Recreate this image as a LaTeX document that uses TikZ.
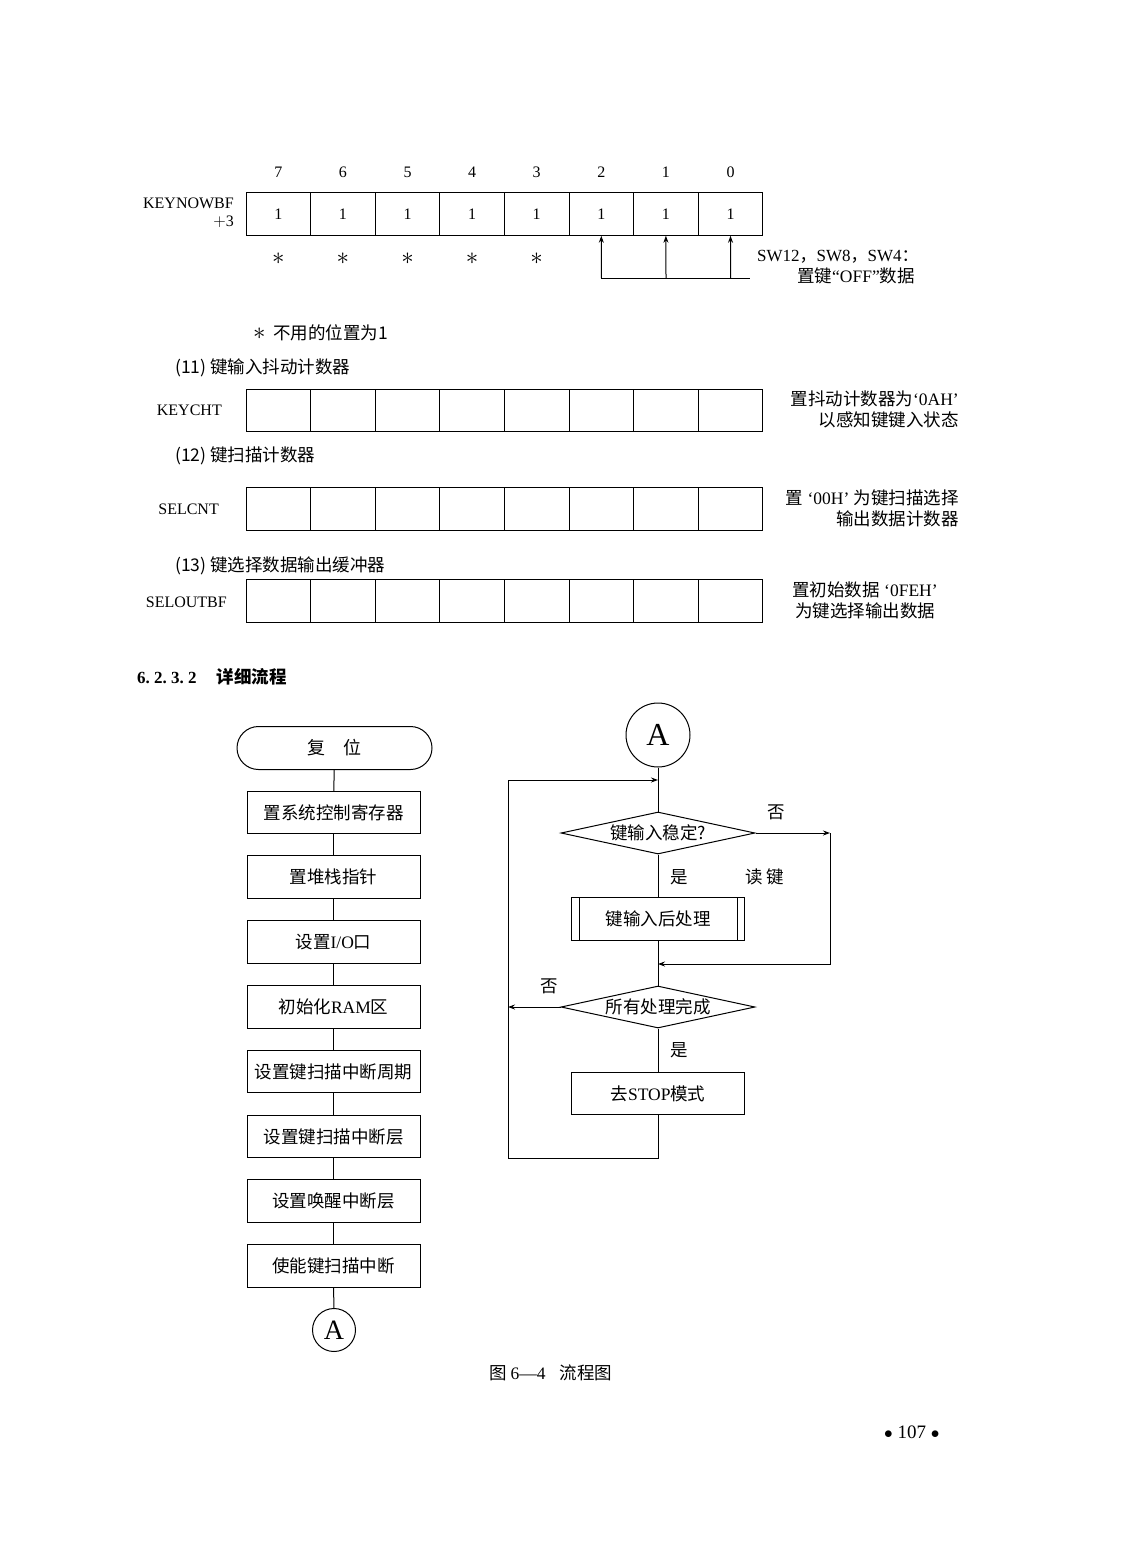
\documentclass[tikz,border=0pt]{standalone}
\usepackage{fontspec}
\setmainfont{Liberation Serif}
\newfontfamily\cjk{Noto Sans CJK SC}
\usetikzlibrary{arrows.meta,shapes.geometric,shapes.misc}
\tikzset{
  ln/.style={line width=1pt},
  tip/.style={-{Stealth[length=7pt,width=5pt]}},
  cell/.style={draw, line width=1pt, minimum width=64.6pt, minimum height=42.5pt, inner sep=0pt, font=\fontsize{16}{18}\selectfont},
  proc/.style={draw, line width=1pt, minimum width=173pt, minimum height=42.5pt, inner sep=0pt, font=\cjk\fontsize{17.5}{20}\selectfont},
  term/.style={draw, line width=1pt, rounded rectangle, minimum width=195pt, minimum height=43pt, inner sep=0pt, font=\cjk\fontsize{18}{20}\selectfont},
  dia/.style={draw, line width=1pt, diamond, aspect=4.6, minimum width=194pt, minimum height=42pt, inner sep=-2pt, font=\cjk\fontsize{17.5}{20}\selectfont},
  conn/.style={draw, line width=1pt, circle, inner sep=0pt, font=\fontsize{28}{30}\selectfont},
  txt/.style={inner sep=0pt, font=\cjk\fontsize{17.5}{21}\selectfont},
  lat/.style={inner sep=0pt, font=\fontsize{16}{19}\selectfont},
  star/.style={inner sep=0pt, font=\fontsize{24}{24}\selectfont},
}
\begin{document}
\begin{tikzpicture}[x=1pt,y=-1pt]
\useasboundingbox (0,0) rectangle (1122,1568);
\fill[white] (0,0) rectangle (1122,1568);

% ---------- KEYNOWBF register ----------
\foreach \i/\b in {0/7,1/6,2/5,3/4,4/3,5/2,6/1,7/0} {
  \node[cell] (k\b) at ({278.3+\i*64.6},214) {1};
  \node[lat] (kn\b) at ({278.3+\i*64.6},172) {\b};
}
\foreach \i in {0,...,4} {
  \node[star] (st\i) at ({278.3+\i*64.6},259) {$\ast$};
}
\node[lat, align=right, anchor=east] (kbl) at (234,213) {KEYNOWBF\\[-1pt]$+$3};
\coordinate (b2) at (601.4,278);
\coordinate (b1) at (666.0,278);
\coordinate (b0) at (730.6,278);
\coordinate (bend) at (750,278);
\draw[ln] (b2) -- (bend);
\draw[ln,tip] (b2) -- (k2.south);
\draw[ln,tip] (b1) -- (k1.south);
\draw[ln,tip] (b0) -- (k0.south);
\node[lat, anchor=west, font=\fontsize{17}{20}\selectfont] (swt) at (757,257) {SW12{\cjk ，}SW8{\cjk ，}SW4{\cjk ：}};
\node[txt, anchor=east] (swt2) at (915,276) {置键{\rmfamily “OFF”}数据};

\node[txt, anchor=west] (note) at (253,333) {{\fontsize{24}{24}\selectfont$\ast$}\ \ 不用的位置为1};

% ---------- KEYCHT ----------
\node[txt, anchor=west] (h11) at (175,368) {(11) 键输入抖动计数器};
\foreach \i in {0,...,7} {
  \node[cell] (c\i) at ({278.3+\i*64.6},410.5) {};
}
\node[lat, anchor=east] (kcl) at (222,410) {KEYCHT};
\node[txt, anchor=east, align=right] (kct) at (959,409) {置抖动计数器为{\rmfamily ‘0AH’}\\以感知键键入状态};

% ---------- SELCNT ----------
\node[txt, anchor=west] (h12) at (175,456) {(12) 键扫描计数器};
\foreach \i in {0,...,7} {
  \node[cell] (s\i) at ({278.3+\i*64.6},509) {};
}
\node[lat, anchor=east] (scl) at (219,509) {SELCNT};
\node[txt, anchor=east, align=right] (sct) at (959,508) {置{\rmfamily\ ‘00H’\ }为键扫描选择\\输出数据计数器};

% ---------- SELOUTBF ----------
\node[txt, anchor=west] (h13) at (175,566) {(13) 键选择数据输出缓冲器};
\foreach \i in {0,...,7} {
  \node[cell] (o\i) at ({278.3+\i*64.6},601) {};
}
\node[lat, anchor=east] (ocl) at (227,602) {SELOUTBF};
\node[txt, align=center] (oct) at (865,600) {置初始数据{\rmfamily\ ‘0FEH’}\\为键选择输出数据};

% ---------- heading ----------
\node[txt, anchor=west, font=\cjk\bfseries\fontsize{17.5}{20}\selectfont] (sec) at (137,677) {\textbf{\rmfamily\fontsize{17}{20}\selectfont 6.\ 2.\ 3.\ 2}\hspace{20pt}详细流程};

% ---------- left flowchart ----------
\node[term] (rst) at (334.5,748) {复\quad 位};
\node[proc] (p1) at (333.5,812.5) {置系统控制寄存器};
\node[proc] (p2) at (333.5,877) {置堆栈指针};
\node[proc] (p3) at (333.5,942) {设置{\rmfamily I/O}口};
\node[proc] (p4) at (333.5,1007) {初始化{\rmfamily RAM}区};
\node[proc] (p5) at (333.5,1071.5) {设置键扫描中断周期};
\node[proc] (p6) at (333.5,1136.5) {设置键扫描中断层};
\node[proc] (p7) at (333.5,1201) {设置唤醒中断层};
\node[proc] (p8) at (333.5,1266) {使能键扫描中断};
\node[conn, minimum size=43pt] (A1) at (334,1330) {A};
\draw[ln] (rst) -- (p1);
\draw[ln] (p1) -- (p2);
\draw[ln] (p2) -- (p3);
\draw[ln] (p3) -- (p4);
\draw[ln] (p4) -- (p5);
\draw[ln] (p5) -- (p6);
\draw[ln] (p6) -- (p7);
\draw[ln] (p7) -- (p8);
\draw[ln] (p8) -- (A1);

% ---------- right flowchart ----------
\node[conn, minimum size=64pt, font=\fontsize{32}{34}\selectfont] (A2) at (658,735) {A};
\node[dia] (d1) at (658,833) {键输入稳定?};
\node[proc] (sub) at (658,919) {键输入后处理};
\draw[ln] ([xshift=8pt]sub.north west) -- ([xshift=8pt]sub.south west);
\draw[ln] ([xshift=-8pt]sub.north east) -- ([xshift=-8pt]sub.south east);
\node[dia] (d2) at (658,1007) {所有处理完成};
\node[proc] (stop) at (658,1093.5) {去{\rmfamily STOP}模式};

\coordinate (j1) at (658,780);
\coordinate (r1) at (830,833);
\coordinate (r2) at (830,964);
\coordinate (j2) at (658,964);
\coordinate (l1) at (508,1007);
\coordinate (bot) at (658,1158);
\coordinate (lb) at (508,1158);
\coordinate (lt) at (508,780);

\draw[ln] (A2) -- (d1);
\draw[ln] (d1) -- (sub);
\draw[ln] (sub) -- (d2);
\draw[ln] (d2) -- (stop);
\draw[ln,tip] (d1.east) -- (r1);
\draw[ln,tip] (r1) -- (r2) -- (j2);
\draw[ln,tip] (d2.west) -- (l1);
\draw[ln,tip] (stop.south) -- (bot) -- (lb) -- (lt) -- (j1);

\node[txt] (no1) at (776,812) {否};
\node[txt] (yes1) at (679,877) {是};
\node[txt] (rd) at (765,877) {读\ 键};
\node[txt] (no2) at (549,986) {否};
\node[txt] (yes2) at (679,1050) {是};

% ---------- caption ----------
\node[txt, anchor=west] (cap) at (489,1373) {图\ {\rmfamily 6—4}\hspace{14pt}流程图};
\node[lat, anchor=west, font=\fontsize{19}{22}\selectfont] (pg) at (884,1432) {$\bullet$\ 107\ $\bullet$};
\end{tikzpicture}
\end{document}
